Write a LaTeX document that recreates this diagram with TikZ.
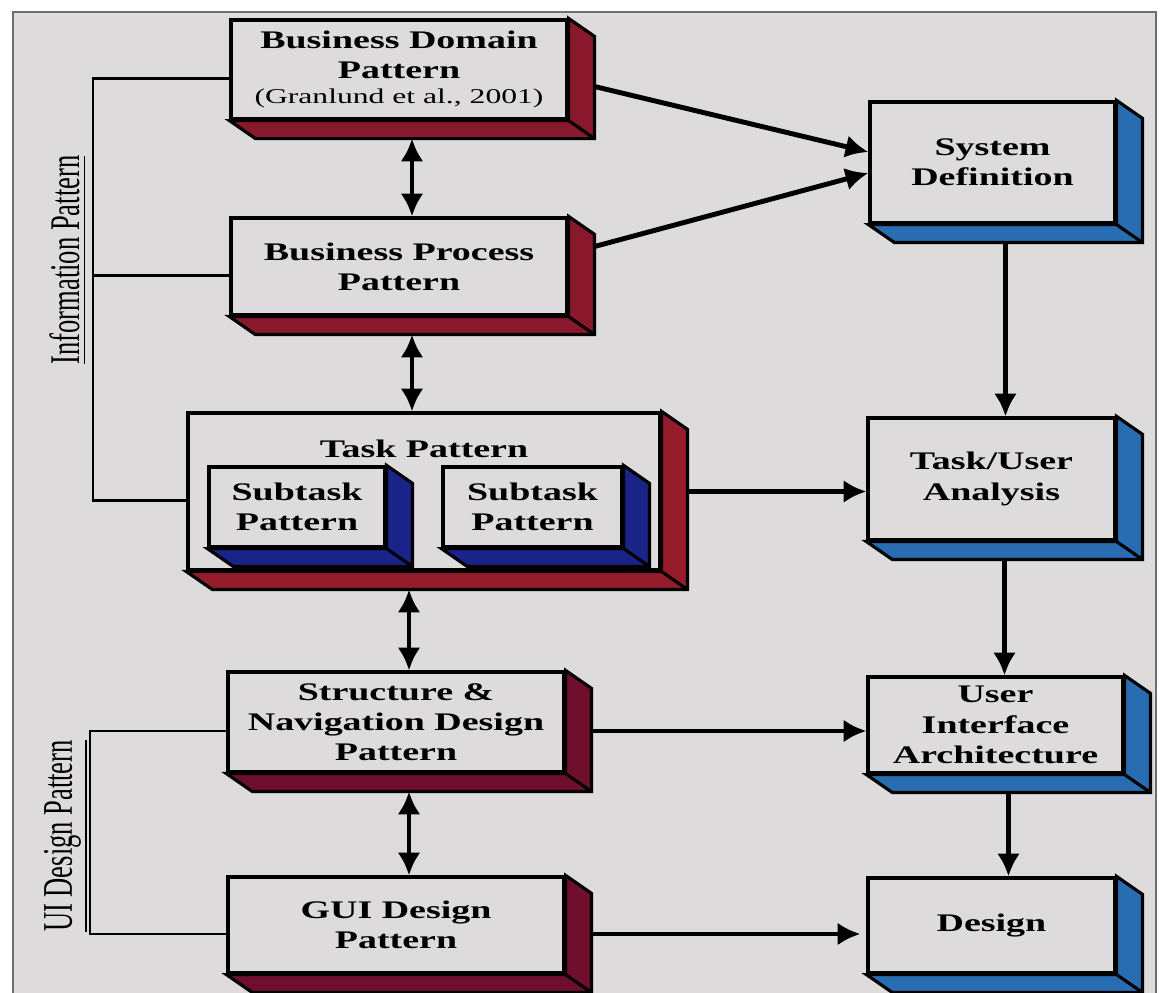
\documentclass[tikz,border=0pt]{standalone}
\usepackage{fontspec}
\setmainfont{Liberation Serif}[FakeStretch=1.5]
\newfontfamily\sidefont{Liberation Serif}[FakeStretch=0.63]
\usepackage{xcolor}
\usetikzlibrary{arrows.meta,calc,positioning}

\definecolor{bggray}{RGB}{222,219,221}
\definecolor{framegray}{RGB}{110,110,110}
\definecolor{wine}{RGB}{138,24,44}
\definecolor{taskred}{RGB}{150,28,44}
\definecolor{plum}{RGB}{112,14,46}
\definecolor{steel}{RGB}{40,108,178}
\definecolor{navy}{RGB}{26,36,136}

% side and bottom face of a box, plus anchors for the connectors
\newcommand{\depthface}[2]{%
  \filldraw[fill=#2, draw=black, line width=0.9pt]
    (#1.north east) -- ++(0.26,-0.18) |- ($(#1.south west)+(0.26,-0.18)$)
    -- (#1.south west) -- (#1.south east) -- cycle;
  \draw[line width=0.9pt] (#1.south east) -- ++(0.26,-0.18);
  \coordinate (#1-b) at ($(#1.south)+(0.13,-0.18)$);
  \coordinate (#1-e) at ($(#1.east)+(0.26,-0.09)$);
  \coordinate (#1-w) at ($(#1.west)+(0,-0.09)$);
}

\begin{document}
\begin{tikzpicture}[>={Latex[length=6.5pt,width=6.5pt]},
  txt/.style={inner sep=0pt, align=center, font=\fontsize{7.2}{8.6}\selectfont\bfseries},
  face/.style={txt, draw, line width=0.9pt, fill=bggray},
  flow/.style={->, line width=1.4pt},
  link/.style={<->, line width=1.4pt},
  bracket/.style={line width=0.8pt},
  sidelabel/.style={rotate=90, inner sep=0pt, font=\sidefont\fontsize{12}{13}\selectfont}]

\useasboundingbox (0,0) rectangle (11.62,-9.93);
\fill[white] (0,0) rectangle (11.62,-9.93);
\fill[bggray] (0.13,-0.12) rectangle (11.56,-9.93);
\draw[framegray, line width=0.7pt] (0.13,-9.93) -- (0.13,-0.12) -- (11.56,-0.12) -- (11.56,-9.93);

% left column
\node[face, minimum width=3.36cm, minimum height=0.99cm] (bd) at (3.99,-0.695)
  {Business Domain\\Pattern\\[-1.5pt]{\mdseries\fontsize{6}{7}\selectfont(Granlund et al., 2001)}};
\depthface{bd}{wine}
\node[face, minimum width=3.36cm, minimum height=0.97cm] (bp) at (3.99,-2.665) {Business Process\\Pattern};
\depthface{bp}{wine}
\node[face, minimum width=4.72cm, minimum height=1.57cm] (task) at (4.24,-4.915) {};
\depthface{task}{taskred}
\node[txt] (tasklbl) at ($(task.north)+(0,-0.37)$) {Task Pattern};
\node[face, minimum width=1.76cm, minimum height=0.80cm] (sub1) at (2.97,-5.07) {Subtask\\Pattern};
\depthface{sub1}{navy}
\node[face, minimum width=1.79cm, minimum height=0.80cm] (sub2) at (5.325,-5.07) {Subtask\\Pattern};
\depthface{sub2}{navy}
\node[face, minimum width=3.36cm, minimum height=1.0cm] (sn) at (3.96,-7.22) {Structure \&\\Navigation Design\\Pattern};
\depthface{sn}{plum}
\node[face, minimum width=3.36cm, minimum height=0.96cm] (gui) at (3.96,-9.25) {GUI Design\\Pattern};
\depthface{gui}{plum}

% right column
\node[face, minimum width=2.45cm, minimum height=1.21cm] (sd) at (9.925,-1.625) {System\\Definition};
\depthface{sd}{steel}
\node[face, minimum width=2.47cm, minimum height=1.22cm] (tua) at (9.915,-4.79) {Task/User\\Analysis};
\depthface{tua}{steel}
\node[face, minimum width=2.55cm, minimum height=0.96cm] (uia) at (9.955,-7.25) {User\\Interface\\Architecture};
\depthface{uia}{steel}
\node[face, minimum width=2.47cm, minimum height=0.95cm] (des) at (9.915,-9.255) {Design};
\depthface{des}{steel}

% links between patterns
\draw[link] (bd-b) -- (bd-b |- bp.north);
\draw[link] (bp-b) -- (bp-b |- task.north);
\draw[link] (sn-b |- task-b) -- (sn.north -| sn-b);
\draw[link] (sn-b) -- (sn-b |- gui.north);

% flow into the design process
\draw[flow] ($(bd.east)+(0.26,-0.17)$) -- ($(sd.west)+(0,0.105)$);
\draw[flow] ($(bp.east)+(0.26,0.2)$) -- ($(sd.west)+(0,-0.105)$);
\draw[flow] ($(task.east)+(0.27,0)$) coordinate (taskout) -- (taskout -| tua.west);
\draw[flow] (sn-e) -- (sn-e -| uia.west);
\draw[flow, shorten >=1.7pt] (gui-e) -- (gui-e -| des.west);
\draw[flow] (sd-b) -- (sd-b |- tua.north);
\draw[flow] (tua-b) -- (tua-b |- uia.north);
\draw[flow] (uia-b) -- (uia-b |- des.north);

% grouping brackets
\coordinate (infox) at (0.93,0);
\draw[bracket] (bd-w) -- (bd-w -| infox) |- (task-w);
\draw[bracket] (bp-w) -- (bp-w -| infox);
\coordinate (uix) at (0.90,0);
\draw[bracket] (sn-w) -- (sn-w -| uix) |- (gui-w);
\node[sidelabel] (infolbl) at (0.68,-2.60) {\underline{Information Pattern}};
\node[sidelabel] (uilbl) at (0.66,-8.36) {\underline{UI Design Pattern}};
\end{tikzpicture}
\end{document}
